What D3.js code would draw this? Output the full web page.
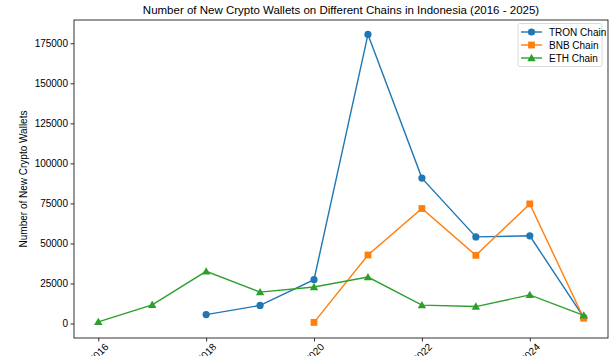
<!DOCTYPE html>
<html><head><meta charset="utf-8">
<script src="https://cdn.jsdelivr.net/npm/d3@7"></script>
<style>
html,body{margin:0;padding:0;background:#fff;}
svg{display:block;}
text{font-family:"Liberation Sans Narrow","Arial Narrow","Liberation Sans",sans-serif;fill:#000;}
</style></head>
<body>
<script>
const years = [2016, 2017, 2018, 2019, 2020, 2021, 2022, 2023, 2024, 2025];
const xTickLabels = ["2016", "2018", "2020", "2022", "2024"];
const yTicks = [0, 25000, 50000, 75000, 100000, 125000, 150000, 175000];
const tronYears = [2018, 2019, 2020, 2021, 2022, 2023, 2024, 2025];
const tronValues = [5600, 11300, 27400, 180500, 90800, 54100, 54800, 3800];
const bnbYears = [2020, 2021, 2022, 2023, 2024, 2025];
const bnbValues = [700, 42800, 71800, 42600, 74700, 3300];
const ethYears = [2016, 2017, 2018, 2019, 2020, 2021, 2022, 2023, 2024, 2025];
const ethValues = [1000, 11700, 32600, 19600, 22800, 29000, 11500, 10600, 17900, 5100];
const seriesNames = ["TRON Chain", "BNB Chain", "ETH Chain"];
const seriesColors = ["#1f77b4", "#ff7f0e", "#2ca02c"];
const seriesMarkers = ["circle", "square", "triangle"];

const W = 612, H = 356;
const m = {left: 74, right: 4, top: 20, bottom: 18};
const svg = d3.select("body").append("svg").attr("width", W).attr("height", H);

const x = d3.scaleLinear().domain([2016 - 0.45, 2025 + 0.45]).range([m.left, W - m.right]);
const y = d3.scaleLinear().domain([-9025, 189525]).range([H - m.bottom, m.top]);

const fs = 10;
// axes
const xAxis = d3.axisBottom(x).tickValues(xTickLabels.map(Number)).tickSize(3.5).tickFormat(d => d);
const gx = svg.append("g").attr("transform", `translate(0,${H - m.bottom})`).call(xAxis);
gx.select(".domain").remove();
gx.selectAll(".tick line").attr("stroke", "#000").attr("stroke-width", 0.8);
gx.selectAll(".tick text")
  .attr("y", 0).attr("dy", null)
  .attr("text-anchor", "middle").attr("dominant-baseline", "central")
  .attr("transform", "translate(0,15) rotate(-45)")
  .style("font-size", fs + "px");

const yAxis = d3.axisLeft(y).tickValues(yTicks).tickSize(3.5).tickFormat(d => d);
const gy = svg.append("g").attr("transform", `translate(${m.left},0)`).call(yAxis);
gy.select(".domain").remove();
gy.selectAll(".tick line").attr("stroke", "#000").attr("stroke-width", 0.8);
gy.selectAll(".tick text").attr("x", -6).style("font-size", fs + "px");

// frame
svg.append("rect").attr("x", m.left).attr("y", m.top)
  .attr("width", W - m.right - m.left).attr("height", H - m.bottom - m.top)
  .attr("fill", "none").attr("stroke", "#000").attr("stroke-width", 0.8);

// title & label
svg.append("text").attr("x", (m.left + W - m.right) / 2).attr("y", 14)
  .attr("text-anchor", "middle").style("font-size", "11.5px")
  .text("Number of New Crypto Wallets on Different Chains in Indonesia (2016 - 2025)");
svg.append("text").attr("transform", `translate(27,${(m.top + H - m.bottom) / 2}) rotate(-90)`)
  .attr("text-anchor", "middle").style("font-size", fs + "px")
  .text("Number of New Crypto Wallets");

function marker(g, type, cx, cy, color) {
  if (type === "circle") {
    g.append("circle").attr("cx", cx).attr("cy", cy).attr("r", 3.6).attr("fill", color);
  } else if (type === "square") {
    g.append("rect").attr("x", cx - 3.4).attr("y", cy - 3.4).attr("width", 6.8).attr("height", 6.8).attr("fill", color);
  } else {
    const s = 4.2;
    g.append("path").attr("d", `M${cx},${cy - s}L${cx + s},${cy + s * 0.75}L${cx - s},${cy + s * 0.75}Z`).attr("fill", color);
  }
}

const allSeries = [
  {xs: tronYears, ys: tronValues},
  {xs: bnbYears, ys: bnbValues},
  {xs: ethYears, ys: ethValues}
];
const line = d3.line().x(d => x(d[0])).y(d => y(d[1]));
allSeries.forEach((s, i) => {
  const pts = s.xs.map((yr, j) => [yr, s.ys[j]]);
  const g = svg.append("g");
  g.append("path").attr("d", line(pts)).attr("fill", "none")
    .attr("stroke", seriesColors[i]).attr("stroke-width", 1.4);
  pts.forEach(p => marker(g, seriesMarkers[i], x(p[0]), y(p[1]), seriesColors[i]));
});

// legend
const lg = svg.append("g");
lg.append("rect").attr("x", 518).attr("y", 23.5).attr("width", 84).attr("height", 43)
  .attr("rx", 2).attr("fill", "#fff").attr("fill-opacity", 0.8)
  .attr("stroke", "#d0d0d0").attr("stroke-width", 0.8);
seriesNames.forEach((name, i) => {
  const cy = 32 + i * 13;
  lg.append("line").attr("x1", 521).attr("x2", 542).attr("y1", cy).attr("y2", cy)
    .attr("stroke", seriesColors[i]).attr("stroke-width", 1.4);
  marker(lg, seriesMarkers[i], 531.5, cy, seriesColors[i]);
  lg.append("text").attr("x", 549).attr("y", cy).attr("dominant-baseline", "central")
    .style("font-size", fs + "px").text(name);
});
</script>
</body></html>
